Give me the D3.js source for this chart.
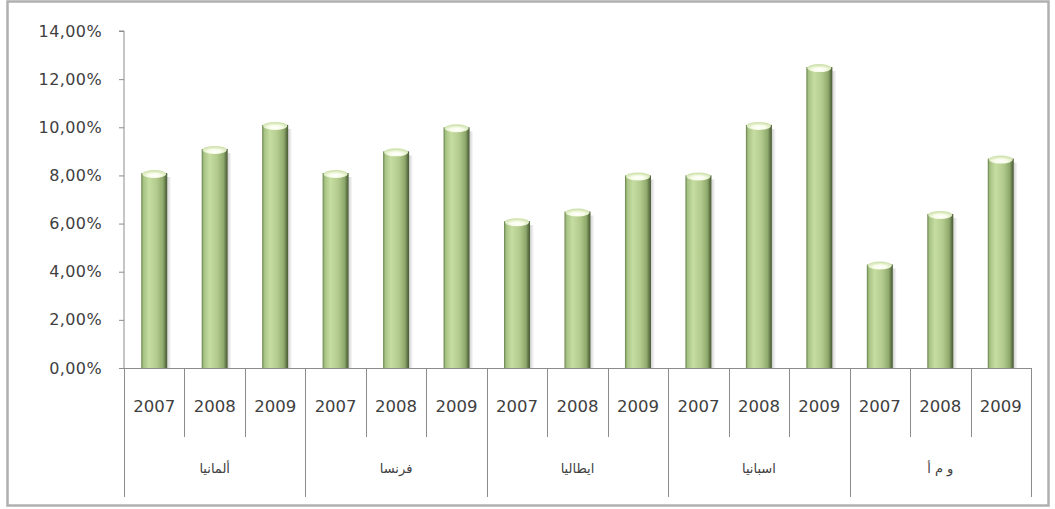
<!DOCTYPE html>
<html>
<head>
<meta charset="utf-8">
<script src="https://cdn.jsdelivr.net/npm/d3@7"></script>
<style>
  body { margin: 0; background: #fff; }
  svg { display: block; }
</style>
</head>
<body>
<svg id="chart" width="1055" height="509"></svg>
<script>
// data
const countries = ["ألمانيا", "فرنسا", "ايطاليا", "اسبانيا", "و م أ"];
const years = ["2007", "2008", "2009"];
const germany = [8.1, 9.1, 10.1];
const france = [8.1, 9.0, 10.0];
const italy = [6.1, 6.5, 8.0];
const spain = [8.0, 10.1, 12.5];
const usa = [4.3, 6.4, 8.7];
const yTicks = [0, 2, 4, 6, 8, 10, 12, 14];

const seriesByCountry = [germany, france, italy, spain, usa];

// flatten to one bar per country/year
const bars = [];
countries.forEach((c, i) => {
    years.forEach((y, j) => {
        bars.push({key: i + "-" + y, country: c, ci: i, year: y, value: seriesByCountry[i][j]});
    });
});

const svg = d3.select("#chart");
const margin = {left: 124, right: 1031, top: 31, bottom: 368};

// frame
svg.append("rect")
    .attr("x", 7.5).attr("y", 1.5)
    .attr("width", 1041).attr("height", 504)
    .attr("fill", "#fff")
    .attr("stroke", "#b0b0b0")
    .attr("stroke-width", 2.5);

const x = d3.scaleBand()
    .domain(bars.map(d => d.key))
    .range([margin.left, margin.right])
    .paddingInner(0.57)
    .paddingOuter(0.285);

const y = d3.scaleLinear()
    .domain([0, 14])
    .range([margin.bottom, margin.top]);

// gradients for the cylinder look
const defs = svg.append("defs");
const g1 = defs.append("linearGradient").attr("id", "barGrad")
    .attr("x1", "0").attr("x2", "1").attr("y1", "0").attr("y2", "0");
[["0%", "#66804a"], ["8%", "#a6c283"], ["30%", "#c6dda1"], ["60%", "#b2cb8d"],
 ["84%", "#8fa96c"], ["93%", "#62784a"], ["100%", "#485a33"]]
    .forEach(s => g1.append("stop").attr("offset", s[0]).attr("stop-color", s[1]));

const g2 = defs.append("radialGradient").attr("id", "capGrad")
    .attr("cx", "50%").attr("cy", "70%").attr("r", "60%");
[["0%", "#ffffff"], ["45%", "#f8fce9"], ["100%", "#cfe2ae"]]
    .forEach(s => g2.append("stop").attr("offset", s[0]).attr("stop-color", s[1]));

const shadow = defs.append("linearGradient").attr("id", "shadowGrad")
    .attr("x1", "0").attr("x2", "1");
shadow.append("stop").attr("offset", "0%").attr("stop-color", "#000").attr("stop-opacity", 0.18);
shadow.append("stop").attr("offset", "100%").attr("stop-color", "#000").attr("stop-opacity", 0);

// y axis
const yAxis = svg.append("g")
    .attr("transform", `translate(${margin.left},0)`)
    .call(d3.axisLeft(y).tickValues(yTicks).tickSize(5).tickPadding(17)
        .tickFormat(d => d3.format(".2f")(d).replace(".", ",") + "%"));
yAxis.select(".domain").attr("stroke", "#8c8c8c").attr("d", `M-5,${y(14)}H0V${margin.bottom}`);
yAxis.selectAll(".tick line").attr("stroke", "#8c8c8c");
yAxis.selectAll(".tick text")
    .style("font-family", "DejaVu Sans, sans-serif")
    .style("font-size", "16px")
    .style("letter-spacing", "0.4px")
    .attr("fill", "#404040");

// bars
const barG = svg.append("g");
const cap = 4;
barG.selectAll(".shadow").data(bars).join("rect")
    .attr("class", "shadow")
    .attr("x", d => x(d.key) + x.bandwidth())
    .attr("y", d => y(d.value) + cap)
    .attr("width", 4)
    .attr("height", d => margin.bottom - y(d.value) - cap)
    .attr("fill", "url(#shadowGrad)");

barG.selectAll(".bar").data(bars).join("rect")
    .attr("class", "bar")
    .attr("x", d => x(d.key))
    .attr("y", d => y(d.value))
    .attr("width", x.bandwidth())
    .attr("height", d => margin.bottom - y(d.value))
    .attr("fill", "url(#barGrad)");

barG.selectAll(".cap").data(bars).join("ellipse")
    .attr("class", "cap")
    .attr("cx", d => x(d.key) + x.bandwidth() / 2)
    .attr("cy", d => y(d.value) + 1)
    .attr("rx", x.bandwidth() / 2 - 1)
    .attr("ry", cap)
    .attr("fill", "url(#capGrad)");

// category axis: line, year row and country row
const axisG = svg.append("g").attr("stroke", "#8c8c8c").attr("stroke-width", 1);
axisG.append("line")
    .attr("x1", margin.left).attr("x2", margin.right)
    .attr("y1", margin.bottom + 0.5).attr("y2", margin.bottom + 0.5);

const step = x.step();
const leftEdge = d => x(d.key) - x.paddingInner() * step / 2;

axisG.selectAll(".sep").data(bars).join("line")
    .attr("class", "sep")
    .attr("x1", d => Math.round(leftEdge(d)) + 0.5)
    .attr("x2", d => Math.round(leftEdge(d)) + 0.5)
    .attr("y1", margin.bottom)
    .attr("y2", d => d.year === years[0] ? 497 : 437);

axisG.append("line")
    .attr("x1", Math.round(margin.right) + 0.5).attr("x2", Math.round(margin.right) + 0.5)
    .attr("y1", margin.bottom).attr("y2", 497);

svg.append("g").selectAll("text").data(bars).join("text")
    .attr("x", d => x(d.key) + x.bandwidth() / 2)
    .attr("y", 412)
    .attr("text-anchor", "middle")
    .style("font-family", "DejaVu Sans, sans-serif")
    .style("font-size", "16.5px")
    .attr("fill", "#404040")
    .text(d => d.year);

const groupW = step * years.length;
svg.append("g").selectAll("text").data(countries).join("text")
    .attr("x", (d, i) => margin.left + groupW * (i + 0.5))
    .attr("y", 473)
    .attr("text-anchor", "middle")
    .attr("direction", "rtl")
    .style("font-family", "DejaVu Sans, sans-serif")
    .style("font-size", "13px")
    .attr("fill", "#404040")
    .text(d => d);
</script>
</body>
</html>
